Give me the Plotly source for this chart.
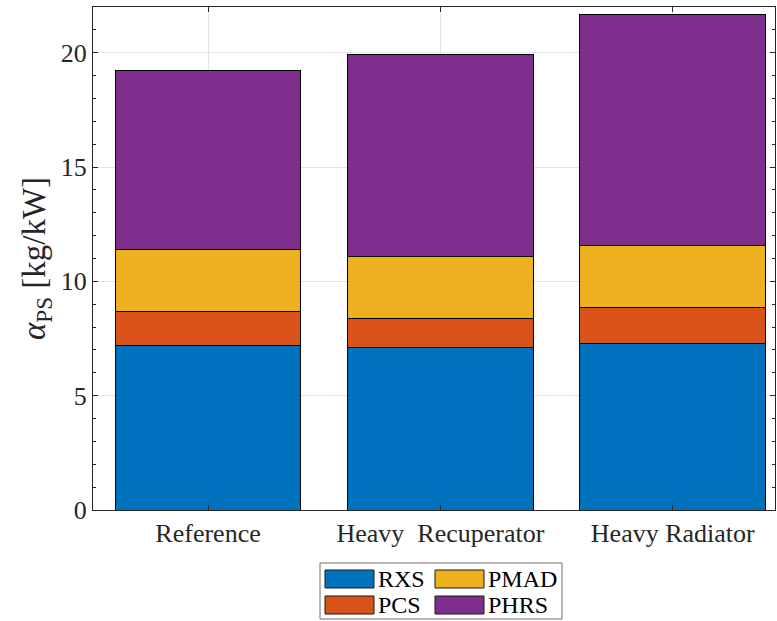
import plotly.graph_objects as go

# Specific mass breakdown of the power system, per configuration
configs = ["Reference", "Heavy  Recuperator", "Heavy Radiator"]
subsystems = ["RXS", "PCS", "PMAD", "PHRS"]
colors = ["#0072BD", "#D95319", "#EDB120", "#7E2F8E"]
rxs = [7.20, 7.12, 7.30]
pcs = [1.49, 1.27, 1.56]
pmad = [2.71, 2.69, 2.72]
phrs = [7.83, 8.86, 10.09]
series = [rxs, pcs, pmad, phrs]

y_ticks = [0, 5, 10, 15, 20]

W, H = 777, 621
ML, MR, MT, MB = 93, 2, 7, 111
FONT = "Liberation Serif"

fig = go.Figure()
x_pos = list(range(len(configs)))
for name, vals, col in zip(subsystems, series, colors):
    fig.add_trace(go.Bar(
        x=x_pos, y=vals, name=name, width=0.8,
        marker=dict(color=col, line=dict(color="#000000", width=1)),
        showlegend=False,
    ))

# Legend drawn as a boxed 2x2 grid of wide swatches
pw, ph = W - ML - MR, H - MT - MB
def px_x(x):
    return (x - ML) / pw
def px_y(y):
    return (H - MB - y) / ph

shapes = [dict(type="rect", xref="paper", yref="paper",
               x0=px_x(320), x1=px_x(562), y0=px_y(563), y1=px_y(619),
               line=dict(color="#6e6e6e", width=1), fillcolor="white")]
annotations = []
grid = [(0, 0), (1, 0), (0, 1), (1, 1)]  # (row, col) for RXS, PCS, PMAD, PHRS
for (row, colx), name, col in zip(grid, subsystems, colors):
    sx = 325 + colx * 110
    sy = 570 + row * 26
    shapes.append(dict(type="rect", xref="paper", yref="paper",
                       x0=px_x(sx), x1=px_x(sx + 49), y0=px_y(sy), y1=px_y(sy + 18),
                       line=dict(color="#1a1a1a", width=1), fillcolor=col))
    annotations.append(dict(xref="paper", yref="paper", x=px_x(sx + 51), y=px_y(sy + 9),
                            text=name, showarrow=False, xanchor="left", yanchor="middle",
                            font=dict(family=FONT, size=24, color="#000000")))

fig.update_layout(
    width=W, height=H,
    margin=dict(l=ML, r=MR, t=MT, b=MB),
    barmode="stack", bargap=0.2,
    plot_bgcolor="white", paper_bgcolor="white",
    font=dict(family=FONT, size=26, color="#262626"),
    shapes=shapes, annotations=annotations,
    showlegend=False,
)
fig.update_xaxes(
    range=[-0.495, 2.44],
    tickvals=x_pos, ticktext=configs,
    showgrid=True, gridcolor="#e3e3e3", gridwidth=1,
    showline=True, linecolor="#262626", linewidth=1, mirror="ticks",
    ticks="inside", ticklen=5, tickcolor="#262626",
    tickfont=dict(family=FONT, size=26, color="#262626"),
    zeroline=False,
)
fig.update_yaxes(
    range=[0, 22],
    tickvals=y_ticks,
    showgrid=True, gridcolor="#e3e3e3", gridwidth=1,
    showline=True, linecolor="#262626", linewidth=1, mirror="ticks",
    ticks="inside", ticklen=5, tickcolor="#262626",
    minor=dict(dtick=1, ticks="inside", ticklen=3, tickcolor="#262626", showgrid=False),
    tickfont=dict(family=FONT, size=26, color="#262626"),
    title=dict(text="<i>α</i><sub>PS</sub> [kg/kW]", font=dict(family=FONT, size=33, color="#262626"), standoff=5),
    zeroline=False,
)

fig.write_html("out.html")
